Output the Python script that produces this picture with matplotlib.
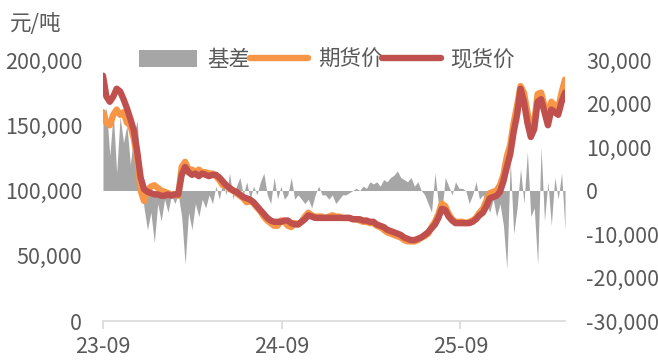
import numpy as np
import pandas as pd
import matplotlib
matplotlib.use("Agg")
import matplotlib.pyplot as plt
from matplotlib.patches import Patch
from matplotlib.lines import Line2D
from matplotlib.ticker import FuncFormatter, MultipleLocator
import matplotlib.dates as mdates

plt.rcParams['font.family'] = ['Noto Sans CJK SC', 'DejaVu Sans']

# 周度数据（千元/吨）
spot = [188, 172, 168, 172, 178, 176, 170, 163, 155, 146,
        130, 110, 101, 99, 98, 97, 97, 96, 96, 97,
        96, 97, 97, 112, 118, 114, 112, 113, 111, 113,
        112, 111, 112, 112, 110, 107, 104, 102, 100, 99,
        97, 95, 94, 93, 91, 88, 85, 82, 79, 77,
        76, 76, 76, 77, 77, 75, 74, 74, 76, 78,
        81, 80, 79, 79, 79, 79, 79, 79, 79, 79,
        79, 79, 79, 78, 78, 78, 77, 77, 76, 76,
        74, 73, 72, 70, 69, 68, 67, 66, 64, 63,
        62, 62, 63, 64, 66, 68, 71, 74, 79, 86,
        85, 80, 77, 75, 75, 75, 75, 75, 76, 78,
        81, 83, 88, 94, 95, 96, 99, 107, 118, 128,
        145, 158, 178, 168, 152, 141, 147, 168, 170, 160,
        150, 162, 160, 158, 168, 175]

futures = [160, 152, 150, 158, 162, 158, 160, 152, 150, 140,
           125, 100, 92, 100, 103, 104, 102, 100, 99, 98,
           97, 97, 96, 118, 122, 116, 116, 114, 116, 114,
           114, 113, 113, 111, 108, 104, 104, 101, 100, 98,
           96, 94, 91, 92, 90, 87, 84, 80, 77, 75,
           73, 73, 77, 76, 73, 72, 75, 74, 76, 80,
           83, 81, 80, 80, 80, 79, 80, 81, 80, 80,
           79, 79, 79, 78, 78, 77, 76, 76, 75, 75,
           73, 72, 70, 68, 67, 66, 65, 64, 62, 61,
           61, 61, 62, 64, 65, 67, 72, 76, 82, 90,
           88, 82, 78, 76, 76, 76, 75, 76, 77, 79,
           83, 86, 92, 98, 99, 100, 104, 112, 126, 135,
           152, 165, 180, 175, 160, 148, 152, 174, 175, 165,
           155, 168, 165, 163, 175, 185]

basis = [16, 19, 8, 18, 4, 17, 11, 15, 6, 13,
         16, 3, -4, -9, -5, -12, -3, -7, -2, -5,
         -1, -3, -1, -6, -17, -5, -9, -3, -6, -2,
         -4, -1, -3, 1, -2, 2, -1, 4, -2, 1,
         3, -1, 2, -2, 1, -1, 2, 4, -1, -3,
         3, -2, 1, -2, -1, 3, -2, -1, -2, -3,
         -2, -4, -1, 1, -1, -1, -2, -1, -3, -2,
         -1, -1, -0.5, 0, 0.5, 0, 1, 0.5, 2, 1.5,
         2, 1, 2.5, 2, 3, 3.5, 4.5, 3, 2.5, 2,
         3, 1, 2, 0, -1, -3, -5, 4, -3, -5,
         3, 1, -1, 2, 0.5, 0.5, 0, -3, -1, 2,
         -2, -1, -3, -5, -2, -6, -3, -8, -18, 7,
         -10, -4, 5, -3, 9, -6, -4, -17, 10, -7,
         2, -8, 3, -2, 4, -9]

dates = pd.date_range("2023-09-01", periods=len(spot), freq="7D")
tick_dates = pd.to_datetime(["2023-09-01", "2024-09-01", "2025-09-01"])

spot_v = np.array(spot) * 1000
futures_v = np.array(futures) * 1000
basis_v = np.array(basis) * 1000

text_color = "#595959"
fs = 15.5

fig = plt.figure(figsize=(6.58, 3.63), dpi=100)
ax_b = fig.add_axes([0.1565, 0.1157, 0.7022, 0.7190])
ax_p = ax_b.twinx()

# 基差面积（右轴）
ax_b.fill_between(dates, 0, basis_v, color="#A6A6A6", linewidth=0)
ax_b.set_ylim(-30000, 30000)
ax_b.yaxis.set_major_locator(MultipleLocator(10000))

# 价格线（左轴）
ax_p.plot(dates, futures_v, color="#F79646", linewidth=4.6, solid_capstyle="round")
ax_p.plot(dates, spot_v, color="#C0504D", linewidth=4.6, solid_capstyle="round")
ax_p.set_ylim(0, 200000)
ax_p.yaxis.set_major_locator(MultipleLocator(50000))

# 价格轴放在左侧，基差轴放在右侧
ax_p.yaxis.tick_left()
ax_b.yaxis.tick_right()
ax_p.set_zorder(ax_b.get_zorder() + 1)
ax_p.patch.set_visible(False)

fmt = FuncFormatter(lambda v, p: f"{int(v):,}")
for a in (ax_b, ax_p):
    a.yaxis.set_major_formatter(fmt)
    for s in a.spines.values():
        s.set_visible(False)
    a.tick_params(axis="y", length=0, labelsize=fs, labelcolor=text_color, pad=15)

ax_b.spines["bottom"].set_visible(True)
ax_b.spines["bottom"].set_color("#D9D9D9")
ax_b.spines["bottom"].set_linewidth(1.2)
ax_b.spines["bottom"].set_position(("data", -30000))
ax_b.set_xlim(dates[0], dates[-1])
ax_b.set_xticks(tick_dates)
ax_b.xaxis.set_major_formatter(mdates.DateFormatter("%y-%m"))
ax_b.tick_params(axis="x", length=6, width=1.2, color="#D9D9D9",
                 labelsize=fs, labelcolor=text_color, pad=5)
ax_p.tick_params(axis="x", length=0)

fig.text(0.015, 0.935, "元/吨", fontsize=fs, color=text_color, va="center")

handles = [Patch(facecolor="#A6A6A6", edgecolor="none"),
           Line2D([], [], color="#F79646", linewidth=4.6, solid_capstyle="round"),
           Line2D([], [], color="#C0504D", linewidth=4.6, solid_capstyle="round")]
fig.legend(handles, ["基差", "期货价", "现货价"], ncol=3, frameon=False,
           loc="center", bbox_to_anchor=(0.497, 0.835), fontsize=fs,
           labelcolor=text_color, handlelength=2.7, handleheight=0.85,
           handletextpad=0.45, columnspacing=0.0)

fig.savefig("out.png", dpi=100)
